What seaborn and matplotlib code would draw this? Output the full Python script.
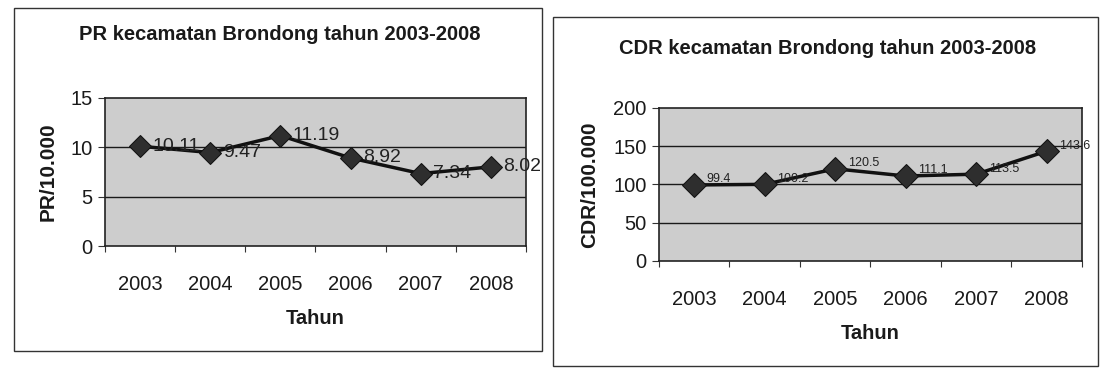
import numpy as np
import matplotlib
matplotlib.use("Agg")
import matplotlib.pyplot as plt
from matplotlib.patches import Rectangle
import seaborn as sns

years = ["2003", "2004", "2005", "2006", "2007", "2008"]
pr_values = [10.11, 9.47, 11.19, 8.92, 7.34, 8.02]
cdr_values = [99.4, 100.2, 120.5, 111.1, 113.5, 143.6]
pr_labels = ["10.11", "9.47", "11.19", "8.92", "7.34", "8.02"]
cdr_labels = ["99.4", "100.2", "120.5", "111.1", "113.5", "143.6"]

sns.set_theme(style="white")
plt.rcParams["font.family"] = ["Liberation Sans", "DejaVu Sans"]

fig = plt.figure(figsize=(11.01, 3.71), dpi=100)
fig.patch.set_facecolor("white")

ax1 = fig.add_axes([0.0954, 0.3369, 0.3823, 0.399])
ax2 = fig.add_axes([0.5985, 0.2965, 0.3842, 0.4124])

# outer frames around each chart
for (x0, y0, w, h) in [(0.0127, 0.0539, 0.4796, 0.9245), (0.5023, 0.0135, 0.495, 0.9407)]:
    fig.patches.append(Rectangle((x0, y0), w, h, transform=fig.transFigure,
                                 fill=False, edgecolor="#333333", linewidth=1.0))


def draw(ax, values, labels, ymax, ystep, ylabel, title, tx, ty, lab_size, lab_dy, ypad, msize):
    xpos = np.arange(len(years)) + 0.5
    ax.set_facecolor("#cdcdcd")
    for g in np.arange(ystep, ymax, ystep):
        ax.axhline(g, color="#1a1a1a", linewidth=1.0, zorder=1)
    sns.lineplot(x=xpos, y=values, ax=ax, color="#111111", linewidth=2.5,
                 marker="D", markersize=msize, markerfacecolor="#2e2e2e",
                 markeredgecolor="#111111", zorder=3)
    for x, v, t in zip(xpos, values, labels):
        ax.annotate(t, (x, v), xytext=(9, lab_dy), textcoords="offset points",
                    ha="left", va="center", fontsize=lab_size, color="#222222", zorder=4)
    ax.set_xlim(0, len(years))
    ax.set_ylim(0, ymax)
    ax.set_yticks(np.arange(0, ymax + ystep / 2, ystep))
    ax.set_xticks(xpos)
    ax.set_xticklabels(years)
    ax.set_xticks(np.arange(0, len(years) + 1), minor=True)
    ax.tick_params(axis="x", which="major", length=0, pad=21, labelsize=14.5, colors="#1a1a1a")
    ax.tick_params(axis="x", which="minor", length=4, width=0.8, color="#333333", direction="out", bottom=True)
    ax.tick_params(axis="y", length=5, width=0.8, color="#333333", direction="out", left=True,
                   pad=4, labelsize=14.5, colors="#1a1a1a")
    for s in ax.spines.values():
        s.set_color("#222222")
        s.set_linewidth(1.2)
    ax.set_xlabel("Tahun", fontsize=14.5, fontweight="bold", labelpad=11, color="#1a1a1a")
    ax.set_ylabel(ylabel, fontsize=15, fontweight="bold", labelpad=ypad, color="#1a1a1a")
    fig.text(tx, ty, title, ha="center", va="center", fontsize=14.5, fontweight="bold", color="#1a1a1a")


draw(ax1, pr_values, pr_labels, 15, 5, "PR/10.000",
     "PR kecamatan Brondong tahun 2003-2008", 0.254, 0.906, 14, 0, 9, 11)
draw(ax2, cdr_values, cdr_labels, 200, 50, "CDR/100.000",
     "CDR kecamatan Brondong tahun 2003-2008", 0.752, 0.868, 9, 4, 10, 12)

fig.savefig("out.png", dpi=100, facecolor="white")
